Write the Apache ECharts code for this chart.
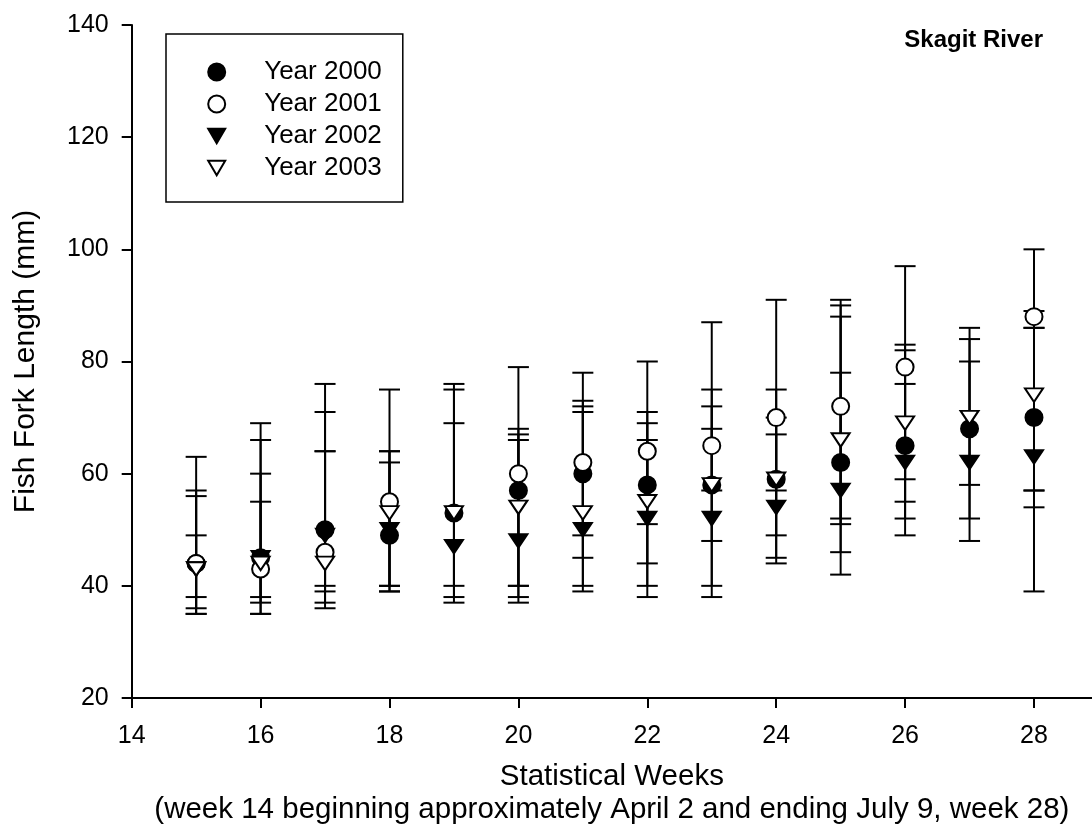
<!DOCTYPE html>
<html>
<head>
<meta charset="utf-8">
<script src="https://cdn.jsdelivr.net/npm/echarts@6/dist/echarts.min.js"></script>
<style>
html,body{margin:0;padding:0;background:#fff;}
#chart{width:1092px;height:831px;}
</style>
</head>
<body>
<div id="chart"></div>
<script>
// ---- data ----
const weeks = [15, 16, 17, 18, 19, 20, 21, 22, 23, 24, 25, 26, 27, 28];

const mean2000 = [44, 45, 50, 49, 53, 57, 60, 58, 58, 59, 62, 65, 68, 70];
const mean2001 = [44, 43, 46, 55, null, 60, 62, 64, 65, 70, 72, 79, null, 88];
const mean2002 = [43, 45, 49, 50, 47, 48, 50, 52, 52, 54, 57, 62, 62, 63];
const mean2003 = [43, 44, 44, 53, 53, 54, 53, 55, 58, 59, 66, 69, 70, 74];

const hi2000 = [56, 66, 76, 62, 76, 68, 73, 71, 75, 75, 88, 82, 84, 89];
const lo2000 = [36, 37, 40, 40, 38, 40, 45, 44, 40, 45, 46, 52, 52, 54];
const hi2001 = [63, 69, 71, 75, null, 79, 78, 80, 87, 91, 91, 97, null, 100];
const lo2001 = [35, 35, 37, 39, null, 38, 40, 51, 57, 49, 52, 59, null, 57];
const hi2002 = [49, 55, 64, 64, 69, 66, 71, 66, 68, 67, 78, 76, 80, 86];
const lo2002 = [38, 38, 39, 40, 37, 37, 39, 38, 38, 44, 42, 49, 48, 39];
const hi2003 = [57, 60, 64, 64, 75, 67, 72, 69, 72, 70, 90, 83, 86, 86];
const lo2003 = [35, 35, 36, 39, 40, 40, 49, 40, 48, 57, 51, 55, 58, 57];

const seriesNames = ['Year 2000', 'Year 2001', 'Year 2002', 'Year 2003'];
const yTicks = [20, 40, 60, 80, 100, 120, 140];
const xTicks = [14, 16, 18, 20, 22, 24, 26, 28];

// ---- build ----
const FONT = "'Liberation Sans', Arial, Helvetica, sans-serif";
const TRI_DOWN = 'path://M0,0L20,0L10,17.32Z';

function pts(means) {
  return weeks.map((w, i) => means[i] == null ? null : [w, means[i]]).filter(d => d);
}
function bars(lo, hi) {
  return weeks.map((w, i) => (lo[i] == null || hi[i] == null) ? null : [w, lo[i], hi[i]]).filter(d => d);
}

function renderErr(params, api) {
  const x = api.value(0), lo = api.value(1), hi = api.value(2);
  const a = api.coord([x, lo]);
  const b = api.coord([x, hi]);
  const hw = 10.5;
  const st = { stroke: '#000', lineWidth: 2 };
  return {
    type: 'group',
    children: [
      { type: 'line', shape: { x1: a[0], y1: a[1], x2: b[0], y2: b[1] }, style: st },
      { type: 'line', shape: { x1: a[0] - hw, y1: a[1], x2: a[0] + hw, y2: a[1] }, style: st },
      { type: 'line', shape: { x1: b[0] - hw, y1: b[1], x2: b[0] + hw, y2: b[1] }, style: st }
    ]
  };
}

const errSets = [[lo2000, hi2000], [lo2001, hi2001], [lo2002, hi2002], [lo2003, hi2003]];
const meanSets = [mean2000, mean2001, mean2002, mean2003];
const symbols = ['circle', 'circle', TRI_DOWN, TRI_DOWN];
const symSizes = [17, 17, [18, 15.6], [18, 15.6]];
const fills = ['#000', '#fff', '#000', '#fff'];

const series = [];
errSets.forEach((s, k) => {
  series.push({
    name: 'err' + k,
    type: 'custom',
    renderItem: renderErr,
    data: bars(s[0], s[1]),
    encode: { x: 0, y: [1, 2] },
    z: 1,
    silent: true
  });
});
meanSets.forEach((m, k) => {
  series.push({
    name: seriesNames[k],
    type: 'scatter',
    data: pts(m),
    symbol: symbols[k],
    symbolSize: symSizes[k],
    symbolKeepAspect: true,
    itemStyle: { color: fills[k], borderColor: '#000', borderWidth: 2, opacity: 1 },
    z: 2 + k,
    silent: true
  });
});

const option = {
  animation: false,
  backgroundColor: '#fff',
  textStyle: { fontFamily: FONT, color: '#000' },
  title: {
    text: 'Skagit River',
    right: 49,
    top: 28,
    padding: 0,
    textStyle: { fontFamily: FONT, fontSize: 24, fontWeight: 'bold', color: '#000', lineHeight: 24 }
  },
  legend: {
    data: seriesNames,
    orient: 'vertical',
    left: 166,
    top: 34,
    padding: [25, 21, 21, 41.2],
    itemWidth: 17,
    itemHeight: 17,
    itemGap: 6,
    borderColor: '#000',
    borderWidth: 1.5,
    selectedMode: false,
    formatter: name => '{p|}' + name,
    textStyle: {
      fontFamily: FONT, fontSize: 26, color: '#000', lineHeight: 26,
      rich: { p: { width: 34, fontSize: 26, lineHeight: 26 } }
    }
  },
  grid: { left: 131.7, right: 0, top: 25, bottom: 129, containLabel: false },
  xAxis: {
    type: 'value',
    min: 14,
    max: 28.9,
    interval: 2,
    name: 'Statistical Weeks\n(week 14 beginning approximately April 2 and ending July 9, week 28)',
    nameLocation: 'middle',
    nameGap: 62,
    nameTextStyle: { fontFamily: FONT, fontSize: 29.5, color: '#000', lineHeight: 33 },
    axisLine: { show: true, onZero: false, lineStyle: { color: '#000', width: 2 } },
    axisTick: { show: true, inside: false, length: 10, customValues: xTicks, lineStyle: { color: '#000', width: 2 } },
    axisLabel: {
      fontFamily: FONT, fontSize: 25, color: '#000', margin: 26, lineHeight: 25,
      customValues: xTicks,
      formatter: v => (xTicks.indexOf(v) >= 0 ? String(v) : '')
    },
    splitLine: { show: false }
  },
  yAxis: {
    type: 'value',
    min: 20,
    max: 140,
    interval: 20,
    name: 'Fish Fork Length (mm)',
    nameLocation: 'middle',
    nameGap: 91,
    nameTextStyle: { fontFamily: FONT, fontSize: 30, color: '#000' },
    axisLine: { show: true, onZero: false, lineStyle: { color: '#000', width: 2 } },
    axisTick: { show: true, inside: false, length: 10, lineStyle: { color: '#000', width: 2 } },
    axisLabel: {
      fontFamily: FONT, fontSize: 25, color: '#000', margin: 23,
      formatter: v => (yTicks.indexOf(v) >= 0 ? String(v) : '')
    },
    splitLine: { show: false }
  },
  series: series
};

const chart = echarts.init(document.getElementById('chart'), null, { renderer: 'canvas' });
chart.setOption(option);
</script>
</body>
</html>
